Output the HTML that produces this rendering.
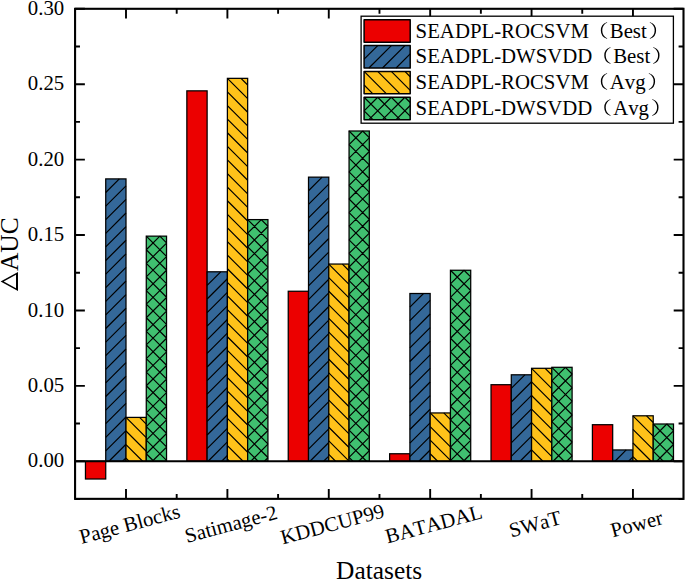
<!DOCTYPE html><html><head><meta charset="utf-8"><style>html,body{margin:0;padding:0;background:#fff;width:685px;height:580px;overflow:hidden}svg{display:block}text{font-family:"Liberation Serif",serif;fill:#000;font-kerning:none}</style></head><body>
<svg width="685" height="580" viewBox="0 0 685 580">
<defs>
</defs>
<rect x="85.46" y="461.25" width="20.27" height="17.75" fill="#ec0000"/><rect x="85.46" y="461.25" width="20.27" height="17.75" fill="none" stroke="#000" stroke-width="1.25"/>
<rect x="105.73" y="178.9" width="20.27" height="282.35" fill="#346899"/><path d="M119.33,178.9 L105.73,192.5 M126,185.83 L105.73,206.1 M126,199.43 L105.73,219.7 M126,213.03 L105.73,233.3 M126,226.63 L105.73,246.9 M126,240.23 L105.73,260.5 M126,253.83 L105.73,274.1 M126,267.43 L105.73,287.7 M126,281.03 L105.73,301.3 M126,294.63 L105.73,314.9 M126,308.23 L105.73,328.5 M126,321.83 L105.73,342.1 M126,335.43 L105.73,355.7 M126,349.03 L105.73,369.3 M126,362.63 L105.73,382.9 M126,376.23 L105.73,396.5 M126,389.83 L105.73,410.1 M126,403.43 L105.73,423.7 M126,417.03 L105.73,437.3 M126,430.63 L105.73,450.9 M126,444.23 L108.98,461.25 M126,457.83 L122.58,461.25" stroke="#000" stroke-width="1.2" fill="none"/><rect x="105.73" y="178.9" width="20.27" height="282.35" fill="none" stroke="#000" stroke-width="1.25"/>
<rect x="126" y="417.4" width="20.27" height="43.85" fill="#ffc21a"/><path d="M126,458.2 L129.05,461.25 M126,444.6 L142.65,461.25 M126,431 L146.27,451.27 M126,417.4 L146.27,437.67 M139.6,417.4 L146.27,424.07" stroke="#000" stroke-width="1.2" fill="none"/><rect x="126" y="417.4" width="20.27" height="43.85" fill="none" stroke="#000" stroke-width="1.25"/>
<rect x="146.27" y="236.15" width="20.27" height="225.1" fill="#40c070"/><path d="M146.27,453.75 L153.77,461.25 M146.27,440.15 L166.54,460.42 M146.27,426.55 L166.54,446.82 M146.27,412.95 L166.54,433.22 M146.27,399.35 L166.54,419.62 M146.27,385.75 L166.54,406.02 M146.27,372.15 L166.54,392.42 M146.27,358.55 L166.54,378.82 M146.27,344.95 L166.54,365.22 M146.27,331.35 L166.54,351.62 M146.27,317.75 L166.54,338.02 M146.27,304.15 L166.54,324.42 M146.27,290.55 L166.54,310.82 M146.27,276.95 L166.54,297.22 M146.27,263.35 L166.54,283.62 M146.27,249.75 L166.54,270.02 M146.27,236.15 L166.54,256.42 M159.87,236.15 L166.54,242.82 M159.87,236.15 L146.27,249.75 M166.54,243.08 L146.27,263.35 M166.54,256.68 L146.27,276.95 M166.54,270.28 L146.27,290.55 M166.54,283.88 L146.27,304.15 M166.54,297.48 L146.27,317.75 M166.54,311.08 L146.27,331.35 M166.54,324.68 L146.27,344.95 M166.54,338.28 L146.27,358.55 M166.54,351.88 L146.27,372.15 M166.54,365.48 L146.27,385.75 M166.54,379.08 L146.27,399.35 M166.54,392.68 L146.27,412.95 M166.54,406.28 L146.27,426.55 M166.54,419.88 L146.27,440.15 M166.54,433.48 L146.27,453.75 M166.54,447.08 L152.37,461.25 M166.54,460.68 L165.97,461.25" stroke="#000" stroke-width="1.2" fill="none"/><rect x="146.27" y="236.15" width="20.27" height="225.1" fill="none" stroke="#000" stroke-width="1.25"/>
<rect x="186.85" y="90.85" width="20.27" height="370.4" fill="#ec0000"/><rect x="186.85" y="90.85" width="20.27" height="370.4" fill="none" stroke="#000" stroke-width="1.25"/>
<rect x="207.12" y="271.8" width="20.27" height="189.45" fill="#346899"/><path d="M220.72,271.8 L207.12,285.4 M227.39,278.73 L207.12,299 M227.39,292.33 L207.12,312.6 M227.39,305.93 L207.12,326.2 M227.39,319.53 L207.12,339.8 M227.39,333.13 L207.12,353.4 M227.39,346.73 L207.12,367 M227.39,360.33 L207.12,380.6 M227.39,373.93 L207.12,394.2 M227.39,387.53 L207.12,407.8 M227.39,401.13 L207.12,421.4 M227.39,414.73 L207.12,435 M227.39,428.33 L207.12,448.6 M227.39,441.93 L208.07,461.25 M227.39,455.53 L221.67,461.25" stroke="#000" stroke-width="1.2" fill="none"/><rect x="207.12" y="271.8" width="20.27" height="189.45" fill="none" stroke="#000" stroke-width="1.25"/>
<rect x="227.39" y="78.35" width="20.27" height="382.9" fill="#ffc21a"/><path d="M227.39,459.15 L229.49,461.25 M227.39,445.55 L243.09,461.25 M227.39,431.95 L247.66,452.22 M227.39,418.35 L247.66,438.62 M227.39,404.75 L247.66,425.02 M227.39,391.15 L247.66,411.42 M227.39,377.55 L247.66,397.82 M227.39,363.95 L247.66,384.22 M227.39,350.35 L247.66,370.62 M227.39,336.75 L247.66,357.02 M227.39,323.15 L247.66,343.42 M227.39,309.55 L247.66,329.82 M227.39,295.95 L247.66,316.22 M227.39,282.35 L247.66,302.62 M227.39,268.75 L247.66,289.02 M227.39,255.15 L247.66,275.42 M227.39,241.55 L247.66,261.82 M227.39,227.95 L247.66,248.22 M227.39,214.35 L247.66,234.62 M227.39,200.75 L247.66,221.02 M227.39,187.15 L247.66,207.42 M227.39,173.55 L247.66,193.82 M227.39,159.95 L247.66,180.22 M227.39,146.35 L247.66,166.62 M227.39,132.75 L247.66,153.02 M227.39,119.15 L247.66,139.42 M227.39,105.55 L247.66,125.82 M227.39,91.95 L247.66,112.22 M227.39,78.35 L247.66,98.62 M240.99,78.35 L247.66,85.02" stroke="#000" stroke-width="1.2" fill="none"/><rect x="227.39" y="78.35" width="20.27" height="382.9" fill="none" stroke="#000" stroke-width="1.25"/>
<rect x="247.66" y="219.6" width="20.27" height="241.65" fill="#40c070"/><path d="M247.66,450.8 L258.11,461.25 M247.66,437.2 L267.93,457.47 M247.66,423.6 L267.93,443.87 M247.66,410 L267.93,430.27 M247.66,396.4 L267.93,416.67 M247.66,382.8 L267.93,403.07 M247.66,369.2 L267.93,389.47 M247.66,355.6 L267.93,375.87 M247.66,342 L267.93,362.27 M247.66,328.4 L267.93,348.67 M247.66,314.8 L267.93,335.07 M247.66,301.2 L267.93,321.47 M247.66,287.6 L267.93,307.87 M247.66,274 L267.93,294.27 M247.66,260.4 L267.93,280.67 M247.66,246.8 L267.93,267.07 M247.66,233.2 L267.93,253.47 M247.66,219.6 L267.93,239.87 M261.26,219.6 L267.93,226.27 M261.26,219.6 L247.66,233.2 M267.93,226.53 L247.66,246.8 M267.93,240.13 L247.66,260.4 M267.93,253.73 L247.66,274 M267.93,267.33 L247.66,287.6 M267.93,280.93 L247.66,301.2 M267.93,294.53 L247.66,314.8 M267.93,308.13 L247.66,328.4 M267.93,321.73 L247.66,342 M267.93,335.33 L247.66,355.6 M267.93,348.93 L247.66,369.2 M267.93,362.53 L247.66,382.8 M267.93,376.13 L247.66,396.4 M267.93,389.73 L247.66,410 M267.93,403.33 L247.66,423.6 M267.93,416.93 L247.66,437.2 M267.93,430.53 L247.66,450.8 M267.93,444.13 L250.81,461.25 M267.93,457.73 L264.41,461.25" stroke="#000" stroke-width="1.2" fill="none"/><rect x="247.66" y="219.6" width="20.27" height="241.65" fill="none" stroke="#000" stroke-width="1.25"/>
<rect x="288.24" y="291.25" width="20.27" height="170" fill="#ec0000"/><rect x="288.24" y="291.25" width="20.27" height="170" fill="none" stroke="#000" stroke-width="1.25"/>
<rect x="308.51" y="177.15" width="20.27" height="284.1" fill="#346899"/><path d="M322.11,177.15 L308.51,190.75 M328.78,184.08 L308.51,204.35 M328.78,197.68 L308.51,217.95 M328.78,211.28 L308.51,231.55 M328.78,224.88 L308.51,245.15 M328.78,238.48 L308.51,258.75 M328.78,252.08 L308.51,272.35 M328.78,265.68 L308.51,285.95 M328.78,279.28 L308.51,299.55 M328.78,292.88 L308.51,313.15 M328.78,306.48 L308.51,326.75 M328.78,320.08 L308.51,340.35 M328.78,333.68 L308.51,353.95 M328.78,347.28 L308.51,367.55 M328.78,360.88 L308.51,381.15 M328.78,374.48 L308.51,394.75 M328.78,388.08 L308.51,408.35 M328.78,401.68 L308.51,421.95 M328.78,415.28 L308.51,435.55 M328.78,428.88 L308.51,449.15 M328.78,442.48 L310.01,461.25 M328.78,456.08 L323.61,461.25" stroke="#000" stroke-width="1.2" fill="none"/><rect x="308.51" y="177.15" width="20.27" height="284.1" fill="none" stroke="#000" stroke-width="1.25"/>
<rect x="328.78" y="264.05" width="20.27" height="197.2" fill="#ffc21a"/><path d="M328.78,454.45 L335.58,461.25 M328.78,440.85 L349.05,461.12 M328.78,427.25 L349.05,447.52 M328.78,413.65 L349.05,433.92 M328.78,400.05 L349.05,420.32 M328.78,386.45 L349.05,406.72 M328.78,372.85 L349.05,393.12 M328.78,359.25 L349.05,379.52 M328.78,345.65 L349.05,365.92 M328.78,332.05 L349.05,352.32 M328.78,318.45 L349.05,338.72 M328.78,304.85 L349.05,325.12 M328.78,291.25 L349.05,311.52 M328.78,277.65 L349.05,297.92 M328.78,264.05 L349.05,284.32 M342.38,264.05 L349.05,270.72" stroke="#000" stroke-width="1.2" fill="none"/><rect x="328.78" y="264.05" width="20.27" height="197.2" fill="none" stroke="#000" stroke-width="1.25"/>
<rect x="349.05" y="131" width="20.27" height="330.25" fill="#40c070"/><path d="M349.05,457.4 L352.9,461.25 M349.05,443.8 L366.5,461.25 M349.05,430.2 L369.32,450.47 M349.05,416.6 L369.32,436.87 M349.05,403 L369.32,423.27 M349.05,389.4 L369.32,409.67 M349.05,375.8 L369.32,396.07 M349.05,362.2 L369.32,382.47 M349.05,348.6 L369.32,368.87 M349.05,335 L369.32,355.27 M349.05,321.4 L369.32,341.67 M349.05,307.8 L369.32,328.07 M349.05,294.2 L369.32,314.47 M349.05,280.6 L369.32,300.87 M349.05,267 L369.32,287.27 M349.05,253.4 L369.32,273.67 M349.05,239.8 L369.32,260.07 M349.05,226.2 L369.32,246.47 M349.05,212.6 L369.32,232.87 M349.05,199 L369.32,219.27 M349.05,185.4 L369.32,205.67 M349.05,171.8 L369.32,192.07 M349.05,158.2 L369.32,178.47 M349.05,144.6 L369.32,164.87 M349.05,131 L369.32,151.27 M362.65,131 L369.32,137.67 M362.65,131 L349.05,144.6 M369.32,137.93 L349.05,158.2 M369.32,151.53 L349.05,171.8 M369.32,165.13 L349.05,185.4 M369.32,178.73 L349.05,199 M369.32,192.33 L349.05,212.6 M369.32,205.93 L349.05,226.2 M369.32,219.53 L349.05,239.8 M369.32,233.13 L349.05,253.4 M369.32,246.73 L349.05,267 M369.32,260.33 L349.05,280.6 M369.32,273.93 L349.05,294.2 M369.32,287.53 L349.05,307.8 M369.32,301.13 L349.05,321.4 M369.32,314.73 L349.05,335 M369.32,328.33 L349.05,348.6 M369.32,341.93 L349.05,362.2 M369.32,355.53 L349.05,375.8 M369.32,369.13 L349.05,389.4 M369.32,382.73 L349.05,403 M369.32,396.33 L349.05,416.6 M369.32,409.93 L349.05,430.2 M369.32,423.53 L349.05,443.8 M369.32,437.13 L349.05,457.4 M369.32,450.73 L358.8,461.25" stroke="#000" stroke-width="1.2" fill="none"/><rect x="349.05" y="131" width="20.27" height="330.25" fill="none" stroke="#000" stroke-width="1.25"/>
<rect x="389.63" y="453.75" width="20.27" height="7.5" fill="#ec0000"/><rect x="389.63" y="453.75" width="20.27" height="7.5" fill="none" stroke="#000" stroke-width="1.25"/>
<rect x="409.9" y="293.5" width="20.27" height="167.75" fill="#346899"/><path d="M423.5,293.5 L409.9,307.1 M430.17,300.43 L409.9,320.7 M430.17,314.03 L409.9,334.3 M430.17,327.63 L409.9,347.9 M430.17,341.23 L409.9,361.5 M430.17,354.83 L409.9,375.1 M430.17,368.43 L409.9,388.7 M430.17,382.03 L409.9,402.3 M430.17,395.63 L409.9,415.9 M430.17,409.23 L409.9,429.5 M430.17,422.83 L409.9,443.1 M430.17,436.43 L409.9,456.7 M430.17,450.03 L418.95,461.25" stroke="#000" stroke-width="1.2" fill="none"/><rect x="409.9" y="293.5" width="20.27" height="167.75" fill="none" stroke="#000" stroke-width="1.25"/>
<rect x="430.17" y="412.95" width="20.27" height="48.3" fill="#ffc21a"/><path d="M430.17,453.75 L437.67,461.25 M430.17,440.15 L450.44,460.42 M430.17,426.55 L450.44,446.82 M430.17,412.95 L450.44,433.22 M443.77,412.95 L450.44,419.62" stroke="#000" stroke-width="1.2" fill="none"/><rect x="430.17" y="412.95" width="20.27" height="48.3" fill="none" stroke="#000" stroke-width="1.25"/>
<rect x="450.44" y="270.25" width="20.27" height="191" fill="#40c070"/><path d="M450.44,460.65 L451.04,461.25 M450.44,447.05 L464.64,461.25 M450.44,433.45 L470.71,453.72 M450.44,419.85 L470.71,440.12 M450.44,406.25 L470.71,426.52 M450.44,392.65 L470.71,412.92 M450.44,379.05 L470.71,399.32 M450.44,365.45 L470.71,385.72 M450.44,351.85 L470.71,372.12 M450.44,338.25 L470.71,358.52 M450.44,324.65 L470.71,344.92 M450.44,311.05 L470.71,331.32 M450.44,297.45 L470.71,317.72 M450.44,283.85 L470.71,304.12 M450.44,270.25 L470.71,290.52 M464.04,270.25 L470.71,276.92 M464.04,270.25 L450.44,283.85 M470.71,277.18 L450.44,297.45 M470.71,290.78 L450.44,311.05 M470.71,304.38 L450.44,324.65 M470.71,317.98 L450.44,338.25 M470.71,331.58 L450.44,351.85 M470.71,345.18 L450.44,365.45 M470.71,358.78 L450.44,379.05 M470.71,372.38 L450.44,392.65 M470.71,385.98 L450.44,406.25 M470.71,399.58 L450.44,419.85 M470.71,413.18 L450.44,433.45 M470.71,426.78 L450.44,447.05 M470.71,440.38 L450.44,460.65 M470.71,453.98 L463.44,461.25" stroke="#000" stroke-width="1.2" fill="none"/><rect x="450.44" y="270.25" width="20.27" height="191" fill="none" stroke="#000" stroke-width="1.25"/>
<rect x="491.02" y="384.7" width="20.27" height="76.55" fill="#ec0000"/><rect x="491.02" y="384.7" width="20.27" height="76.55" fill="none" stroke="#000" stroke-width="1.25"/>
<rect x="511.29" y="374.8" width="20.27" height="86.45" fill="#346899"/><path d="M524.89,374.8 L511.29,388.4 M531.56,381.73 L511.29,402 M531.56,395.33 L511.29,415.6 M531.56,408.93 L511.29,429.2 M531.56,422.53 L511.29,442.8 M531.56,436.13 L511.29,456.4 M531.56,449.73 L520.04,461.25" stroke="#000" stroke-width="1.2" fill="none"/><rect x="511.29" y="374.8" width="20.27" height="86.45" fill="none" stroke="#000" stroke-width="1.25"/>
<rect x="531.56" y="368.3" width="20.27" height="92.95" fill="#ffc21a"/><path d="M531.56,449.9 L542.91,461.25 M531.56,436.3 L551.83,456.57 M531.56,422.7 L551.83,442.97 M531.56,409.1 L551.83,429.37 M531.56,395.5 L551.83,415.77 M531.56,381.9 L551.83,402.17 M531.56,368.3 L551.83,388.57 M545.16,368.3 L551.83,374.97" stroke="#000" stroke-width="1.2" fill="none"/><rect x="531.56" y="368.3" width="20.27" height="92.95" fill="none" stroke="#000" stroke-width="1.25"/>
<rect x="551.83" y="367.3" width="20.27" height="93.95" fill="#40c070"/><path d="M551.83,448.9 L564.18,461.25 M551.83,435.3 L572.1,455.57 M551.83,421.7 L572.1,441.97 M551.83,408.1 L572.1,428.37 M551.83,394.5 L572.1,414.77 M551.83,380.9 L572.1,401.17 M551.83,367.3 L572.1,387.57 M565.43,367.3 L572.1,373.97 M565.43,367.3 L551.83,380.9 M572.1,374.23 L551.83,394.5 M572.1,387.83 L551.83,408.1 M572.1,401.43 L551.83,421.7 M572.1,415.03 L551.83,435.3 M572.1,428.63 L551.83,448.9 M572.1,442.23 L553.08,461.25 M572.1,455.83 L566.68,461.25" stroke="#000" stroke-width="1.2" fill="none"/><rect x="551.83" y="367.3" width="20.27" height="93.95" fill="none" stroke="#000" stroke-width="1.25"/>
<rect x="592.41" y="424.7" width="20.27" height="36.55" fill="#ec0000"/><rect x="592.41" y="424.7" width="20.27" height="36.55" fill="none" stroke="#000" stroke-width="1.25"/>
<rect x="612.68" y="449.95" width="20.27" height="11.3" fill="#346899"/><path d="M626.28,449.95 L614.98,461.25 M632.95,456.88 L628.58,461.25" stroke="#000" stroke-width="1.2" fill="none"/><rect x="612.68" y="449.95" width="20.27" height="11.3" fill="none" stroke="#000" stroke-width="1.25"/>
<rect x="632.95" y="415.8" width="20.27" height="45.45" fill="#ffc21a"/><path d="M632.95,456.6 L637.6,461.25 M632.95,443 L651.2,461.25 M632.95,429.4 L653.22,449.67 M632.95,415.8 L653.22,436.07 M646.55,415.8 L653.22,422.47" stroke="#000" stroke-width="1.2" fill="none"/><rect x="632.95" y="415.8" width="20.27" height="45.45" fill="none" stroke="#000" stroke-width="1.25"/>
<rect x="653.22" y="424" width="20.27" height="37.25" fill="#40c070"/><path d="M653.22,451.2 L663.27,461.25 M653.22,437.6 L673.49,457.87 M653.22,424 L673.49,444.27 M666.82,424 L673.49,430.67 M666.82,424 L653.22,437.6 M673.49,430.93 L653.22,451.2 M673.49,444.53 L656.77,461.25 M673.49,458.13 L670.37,461.25" stroke="#000" stroke-width="1.2" fill="none"/><rect x="653.22" y="424" width="20.27" height="37.25" fill="none" stroke="#000" stroke-width="1.25"/>
<line x1="75.07" y1="461.25" x2="683.5" y2="461.25" stroke="#000" stroke-width="2"/>
<rect x="75.07" y="8.8" width="608.43" height="490.05" fill="none" stroke="#000" stroke-width="2.1"/>
<path d="M75.07,498.95 h4.9 M683.5,498.95 h-4.9 M75.07,461.25 h9.8 M683.5,461.25 h-9.8 M75.07,423.55 h4.9 M683.5,423.55 h-4.9 M75.07,385.84 h9.8 M683.5,385.84 h-9.8 M75.07,348.13 h4.9 M683.5,348.13 h-4.9 M75.07,310.43 h9.8 M683.5,310.43 h-9.8 M75.07,272.73 h4.9 M683.5,272.73 h-4.9 M75.07,235.02 h9.8 M683.5,235.02 h-9.8 M75.07,197.31 h4.9 M683.5,197.31 h-4.9 M75.07,159.61 h9.8 M683.5,159.61 h-9.8 M75.07,121.91 h4.9 M683.5,121.91 h-4.9 M75.07,84.2 h9.8 M683.5,84.2 h-9.8 M75.07,46.5 h4.9 M683.5,46.5 h-4.9 M75.07,8.79 h9.8 M683.5,8.79 h-9.8 M126,498.85 v-9.8 M126,8.8 v9.8 M227.39,498.85 v-9.8 M227.39,8.8 v9.8 M328.78,498.85 v-9.8 M328.78,8.8 v9.8 M430.17,498.85 v-9.8 M430.17,8.8 v9.8 M531.56,498.85 v-9.8 M531.56,8.8 v9.8 M632.95,498.85 v-9.8 M632.95,8.8 v9.8 M176.69,498.85 v-4.9 M176.69,8.8 v4.9 M278.09,498.85 v-4.9 M278.09,8.8 v4.9 M379.48,498.85 v-4.9 M379.48,8.8 v4.9 M480.87,498.85 v-4.9 M480.87,8.8 v4.9 M582.25,498.85 v-4.9 M582.25,8.8 v4.9" stroke="#000" stroke-width="1.9" fill="none"/>
<text x="64.2" y="467.45" font-size="20.8" text-anchor="end">0.00</text>
<text x="64.2" y="392.04" font-size="20.8" text-anchor="end">0.05</text>
<text x="64.2" y="316.63" font-size="20.8" text-anchor="end">0.10</text>
<text x="64.2" y="241.22" font-size="20.8" text-anchor="end">0.15</text>
<text x="64.2" y="165.81" font-size="20.8" text-anchor="end">0.20</text>
<text x="64.2" y="90.4" font-size="20.8" text-anchor="end">0.25</text>
<text x="64.2" y="14.99" font-size="20.8" text-anchor="end">0.30</text>
<text font-size="20.8" text-anchor="middle" transform="translate(131.4,530.7) rotate(-15)">Page Blocks</text>
<text font-size="20.8" text-anchor="middle" transform="translate(232.79,530.7) rotate(-15)">Satimage-2</text>
<text font-size="20.8" text-anchor="middle" transform="translate(334.18,530.7) rotate(-15)">KDDCUP99</text>
<text font-size="20.8" text-anchor="middle" transform="translate(435.57,530.7) rotate(-15)">BATADAL</text>
<text font-size="20.8" text-anchor="middle" transform="translate(536.96,530.7) rotate(-15)">SWaT</text>
<text font-size="20.8" text-anchor="middle" transform="translate(638.35,530.7) rotate(-15)">Power</text>
<text x="379.1" y="578.7" font-size="25.4" text-anchor="middle">Datasets</text>
<text transform="translate(17.7,271.0) rotate(-90)" font-size="25.4">AUC</text>
<path d="M0.6,281.5 L18,272 L18,291 Z M3.73,281.5 L16,288.2 L16,274.8 Z" fill="#000" fill-rule="evenodd"/>
<rect x="361.1" y="16.2" width="312.3" height="107" fill="#fff" stroke="#000" stroke-width="1.3"/>
<rect x="364.1" y="19.75" width="46.1" height="22.4" fill="#ec0000"/><rect x="364.1" y="19.75" width="46.1" height="22.4" fill="none" stroke="#000" stroke-width="1.5" stroke-linejoin="round"/>
<text x="415.6" y="38" font-size="20.8">SEADPL-ROCSVM</text>
<path d="M606.77,22.3 A8.63,8.63 0 0 0 606.77,38.7 L607.37,38.4 A8.67,8.67 0 0 1 607.37,22.6 Z" fill="#000" stroke="none"/>
<text x="609.77" y="38" font-size="20.8">Best</text>
<path d="M650.15,22.3 A8.63,8.63 0 0 1 650.15,38.7 L649.55,38.4 A8.67,8.67 0 0 0 649.55,22.6 Z" fill="#000" stroke="none"/>
<rect x="364.1" y="45.58" width="46.1" height="22.4" fill="#346899"/><path d="M377.7,45.58 L364.1,59.18 M391.3,45.58 L368.9,67.98 M404.9,45.58 L382.5,67.98 M410.2,53.88 L396.1,67.98 M410.2,67.48 L409.7,67.98" stroke="#000" stroke-width="1.2" fill="none"/><rect x="364.1" y="45.58" width="46.1" height="22.4" fill="none" stroke="#000" stroke-width="1.5" stroke-linejoin="round"/>
<text x="415.6" y="63" font-size="20.8">SEADPL-DWSVDD</text>
<path d="M610.2,47.3 A8.63,8.63 0 0 0 610.2,63.7 L610.8,63.4 A8.67,8.67 0 0 1 610.8,47.6 Z" fill="#000" stroke="none"/>
<text x="613.2" y="63" font-size="20.8">Best</text>
<path d="M653.58,47.3 A8.63,8.63 0 0 1 653.58,63.7 L652.98,63.4 A8.67,8.67 0 0 0 652.98,47.6 Z" fill="#000" stroke="none"/>
<rect x="364.1" y="71.41" width="46.1" height="22.4" fill="#ffc21a"/><path d="M364.1,85.01 L372.9,93.81 M364.1,71.41 L386.5,93.81 M377.7,71.41 L400.1,93.81 M391.3,71.41 L410.2,90.31 M404.9,71.41 L410.2,76.71" stroke="#000" stroke-width="1.2" fill="none"/><rect x="364.1" y="71.41" width="46.1" height="22.4" fill="none" stroke="#000" stroke-width="1.5" stroke-linejoin="round"/>
<text x="415.6" y="89" font-size="20.8">SEADPL-ROCSVM</text>
<path d="M606.77,73.3 A8.63,8.63 0 0 0 606.77,89.7 L607.37,89.4 A8.67,8.67 0 0 1 607.37,73.6 Z" fill="#000" stroke="none"/>
<text x="609.77" y="89" font-size="20.8">Avg</text>
<path d="M649.15,73.3 A8.63,8.63 0 0 1 649.15,89.7 L648.55,89.4 A8.67,8.67 0 0 0 648.55,73.6 Z" fill="#000" stroke="none"/>
<rect x="364.1" y="97.24" width="46.1" height="22.4" fill="#40c070"/><path d="M364.1,110.84 L372.9,119.64 M364.1,97.24 L386.5,119.64 M377.7,97.24 L400.1,119.64 M391.3,97.24 L410.2,116.14 M404.9,97.24 L410.2,102.54 M377.7,97.24 L364.1,110.84 M391.3,97.24 L368.9,119.64 M404.9,97.24 L382.5,119.64 M410.2,105.54 L396.1,119.64 M410.2,119.14 L409.7,119.64" stroke="#000" stroke-width="1.2" fill="none"/><rect x="364.1" y="97.24" width="46.1" height="22.4" fill="none" stroke="#000" stroke-width="1.5" stroke-linejoin="round"/>
<text x="415.6" y="115" font-size="20.8">SEADPL-DWSVDD</text>
<path d="M610.2,99.3 A8.63,8.63 0 0 0 610.2,115.7 L610.8,115.4 A8.67,8.67 0 0 1 610.8,99.6 Z" fill="#000" stroke="none"/>
<text x="613.2" y="115" font-size="20.8">Avg</text>
<path d="M652.58,99.3 A8.63,8.63 0 0 1 652.58,115.7 L651.98,115.4 A8.67,8.67 0 0 0 651.98,99.6 Z" fill="#000" stroke="none"/>
</svg></body></html>
